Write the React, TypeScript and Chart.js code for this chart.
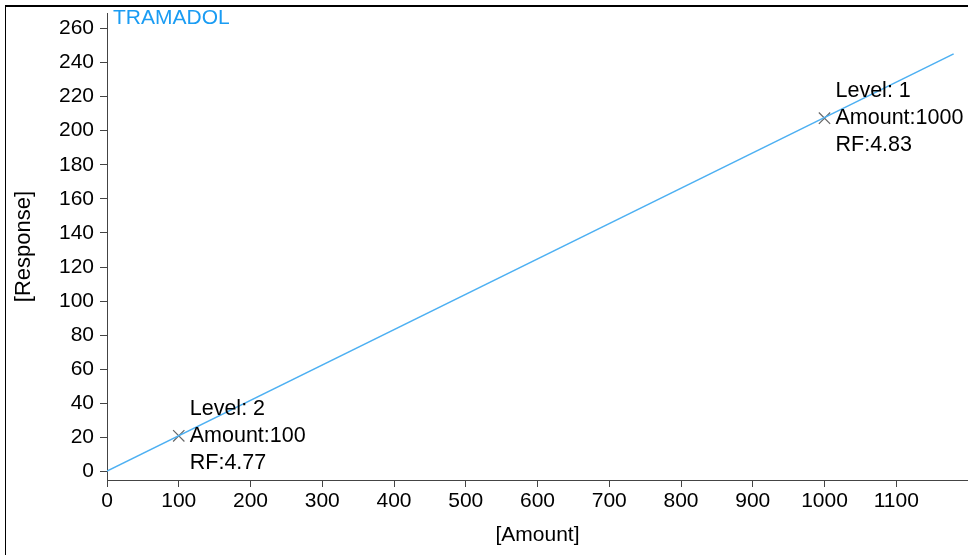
import React, { useEffect, useRef } from "react";
import { Chart, registerables } from "chart.js";

Chart.register(...registerables);

const compoundName = "TRAMADOL";
const levels = ["1", "2"];
const amounts = [1000, 100];
const responses = [207.3, 21];
const rfs = ["4.83", "4.77"];
const fitAmounts = [0, 1180];
const fitResponses = [0.3, 245];
const xTicks = [0, 100, 200, 300, 400, 500, 600, 700, 800, 900, 1000, 1100];
const yTicks = [0, 20, 40, 60, 80, 100, 120, 140, 160, 180, 200, 220, 240, 260];

const FONT = "'Liberation Sans', Arial, sans-serif";

export default function App() {
  const ref = useRef<HTMLCanvasElement | null>(null);

  useEffect(() => {
    document.body.style.margin = "0";
    const canvas = ref.current!;
    const overlay = {
      id: "overlay",
      afterDraw(chart: any) {
        const { ctx, chartArea, scales } = chart;
        ctx.save();
        // frame
        ctx.fillStyle = "#000";
        ctx.fillRect(5, 5, 963, 2);
        ctx.fillRect(5, 5, 1, 550);
        // title
        ctx.font = `21px ${FONT}`;
        ctx.fillStyle = "#1a9cf3";
        ctx.textBaseline = "top";
        ctx.textAlign = "left";
        ctx.fillText(compoundName, chartArea.left + 6, 8);
        // annotations
        ctx.font = `21.5px ${FONT}`;
        ctx.fillStyle = "#000";
        ctx.textBaseline = "middle";
        for (let i = 0; i < amounts.length; i++) {
          const px = scales.x.getPixelForValue(amounts[i]);
          const py = scales.y.getPixelForValue(responses[i]);
          const tx = px + 11;
          ctx.fillText(`Level: ${levels[i]}`, tx, py - 27);
          ctx.fillText(`Amount:${amounts[i]}`, tx, py);
          ctx.fillText(`RF:${rfs[i]}`, tx, py + 27);
        }
        ctx.restore();
      },
    };

    const chart = new Chart(canvas, {
      type: "scatter",
      data: {
        datasets: [
          {
            type: "line",
            data: fitAmounts.map((a, i) => ({ x: a, y: fitResponses[i] })),
            borderColor: "#4db0f2",
            borderWidth: 1.5,
            pointRadius: 0,
            fill: false,
          } as any,
          {
            data: amounts.map((a, i) => ({ x: a, y: responses[i] })),
            pointStyle: "crossRot",
            pointRadius: 8,
            borderColor: "#666",
            borderWidth: 1.2,
            backgroundColor: "#666",
          },
        ],
      },
      plugins: [overlay],
      options: {
        animation: false,
        responsive: false,
        devicePixelRatio: 1,
        layout: { autoPadding: false, padding: { top: 13, right: 0, left: 0, bottom: 0 } },
        plugins: { legend: { display: false }, tooltip: { enabled: false } },
        scales: {
          x: {
            type: "linear",
            min: 0,
            max: 1200,
            afterBuildTicks: (axis: any) => {
              axis.ticks = xTicks.map((v) => ({ value: v }));
            },
            afterFit: (s: any) => {
              s.height = 75;
              s.paddingLeft = 0;
              s.paddingRight = 0;
            },
            ticks: {
              color: "#000",
              font: { family: FONT, size: 21 },
              padding: 2,
              maxRotation: 0,
              autoSkip: false,
              callback: (v: any) => String(v),
            },
            grid: { drawOnChartArea: false, drawTicks: true, tickLength: 7, color: "#444" },
            border: { display: true, color: "#444" },
            title: { display: true, text: "[Amount]", color: "#000", font: { family: FONT, size: 21 }, padding: { top: 0, bottom: 7 } },
          },
          y: {
            type: "linear",
            min: -4.9,
            max: 269,
            afterBuildTicks: (axis: any) => {
              axis.ticks = yTicks.map((v) => ({ value: v }));
            },
            afterFit: (s: any) => {
              s.width = 107;
              s.paddingTop = 0;
              s.paddingBottom = 0;
            },
            ticks: { color: "#000", font: { family: FONT, size: 21 }, padding: 6, autoSkip: false, callback: (v: any) => String(v) },
            grid: { drawOnChartArea: false, drawTicks: true, tickLength: 7, color: "#444" },
            border: { display: true, color: "#444" },
            title: { display: true, text: "[Response]", color: "#000", font: { family: FONT, size: 22 }, padding: { top: 11, bottom: 0 } },
          },
        },
      },
    } as any);
    return () => chart.destroy();
  }, []);

  return <canvas ref={ref} width={968} height={555} style={{ display: "block" }} />;
}
